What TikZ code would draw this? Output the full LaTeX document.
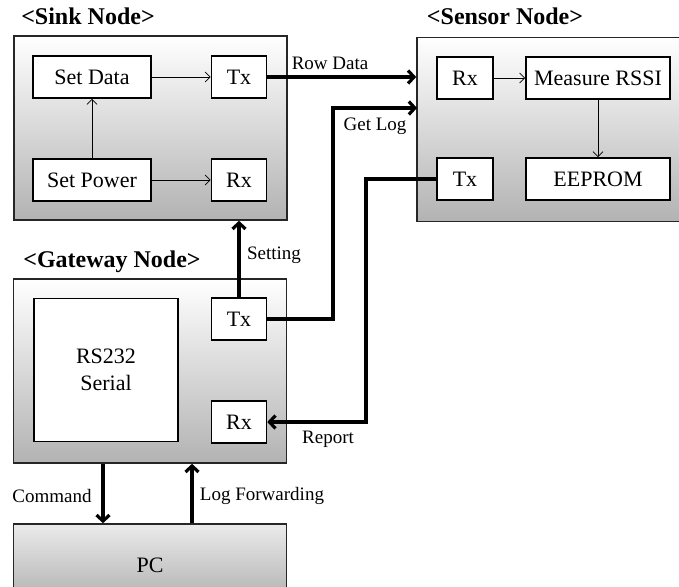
\documentclass[tikz,border=0pt]{standalone}
\usepackage{fontspec}
\setmainfont{Liberation Serif}
\usetikzlibrary{arrows.meta}

\begin{document}
\begin{tikzpicture}[x=1pt,y=-1pt,
  unit/.style={draw=black!85,line width=1.6pt,top color=white,bottom color=black!30,
    minimum width=273pt,minimum height=184pt,inner sep=0pt,font=\fontsize{22}{27}\selectfont},
  part/.style={draw,fill=white,line width=1.6pt,minimum height=42pt,inner sep=0pt,
    align=center,font=\fontsize{22}{27}\selectfont},
  title/.style={font=\fontsize{24}{28}\selectfont\bfseries},
  lbl/.style={font=\fontsize{19}{22}\selectfont},
  flow/.style={-{Straight Barb[length=5pt,width=10pt]},line width=0.8pt},
  link/.style={-{Straight Barb[length=6pt,width=13pt]},line width=3.2pt}]
  \useasboundingbox (0,0) rectangle (679,586);

  % the four units
  \node[unit] (sink) at (150.5,128) {};
  \node[unit] (sensor) at (553.5,129.5) {};
  \node[unit] (gateway) at (150,371) {};
  \node[unit,minimum height=82pt,top color=black!8,bottom color=black!32] (pc) at (150,565) {PC};

  \node[title] (sinkname) at (88,16) {<Sink Node>};
  \node[title] (sensorname) at (505,16) {<Sensor Node>};
  \node[title] (gatewayname) at (112,262) {<Gateway Node>};

  % sink node
  \node[part,minimum width=118pt] (setdata) at (92,77) {Set Data};
  \node[part,minimum width=55pt] (sinktx) at (239,77) {Tx};
  \node[part,minimum width=118pt] (setpower) at (92,180) {Set Power};
  \node[part,minimum width=55pt] (sinkrx) at (239,180) {Rx};
  \draw[flow] (setpower) -- (setdata);
  \draw[flow] (setdata) -- (sinktx);
  \draw[flow] (setpower) -- (sinkrx);

  % sensor node
  \node[part,minimum width=56pt] (senrx) at (465,78) {Rx};
  \node[part,minimum width=144pt] (measure) at (598,78) {Measure RSSI};
  \node[part,minimum width=56pt] (sentx) at (465,179) {Tx};
  \node[part,minimum width=144pt] (eeprom) at (598,179) {EEPROM};
  \draw[flow] (senrx) -- (measure);
  \draw[flow] (measure) -- (eeprom);

  % gateway node
  \node[part,minimum width=144pt,minimum height=143pt] (rs232) at (106,370) {RS232\\Serial};
  \node[part,minimum width=55pt] (gwtx) at (239,319) {Tx};
  \node[part,minimum width=55pt] (gwrx) at (239,422) {Rx};

  % links between units
  \coordinate (logbend) at (333,200);
  \coordinate (login) at (417,108);
  \coordinate (repbend) at (366,300);
  \draw[link] (sinktx.east) -- (sinktx.east -| sensor.west);
  \draw[link] (gwtx.north) -- (gwtx.north |- sink.south);
  \draw[link] (gwtx.east) -| (logbend) |- (login);
  \draw[link] (sentx.west) -| (repbend) |- (gwrx.east);
  \draw[link] ([xshift=-47pt]gateway.south) -- ([xshift=-47pt]pc.north);
  \draw[link] ([xshift=42pt]pc.north) -- ([xshift=42pt]gateway.south);

  \node[lbl] (rowlbl) at (330,63) {Row Data};
  \node[lbl] (loglbl) at (375,126) {Get Log};
  \node[lbl] (setlbl) at (274,255) {Setting};
  \node[lbl] (replbl) at (328,439) {Report};
  \node[lbl] (cmdlbl) at (52,496) {Command};
  \node[lbl] (fwdlbl) at (262,496) {Log Forwarding};
\end{tikzpicture}
\end{document}
